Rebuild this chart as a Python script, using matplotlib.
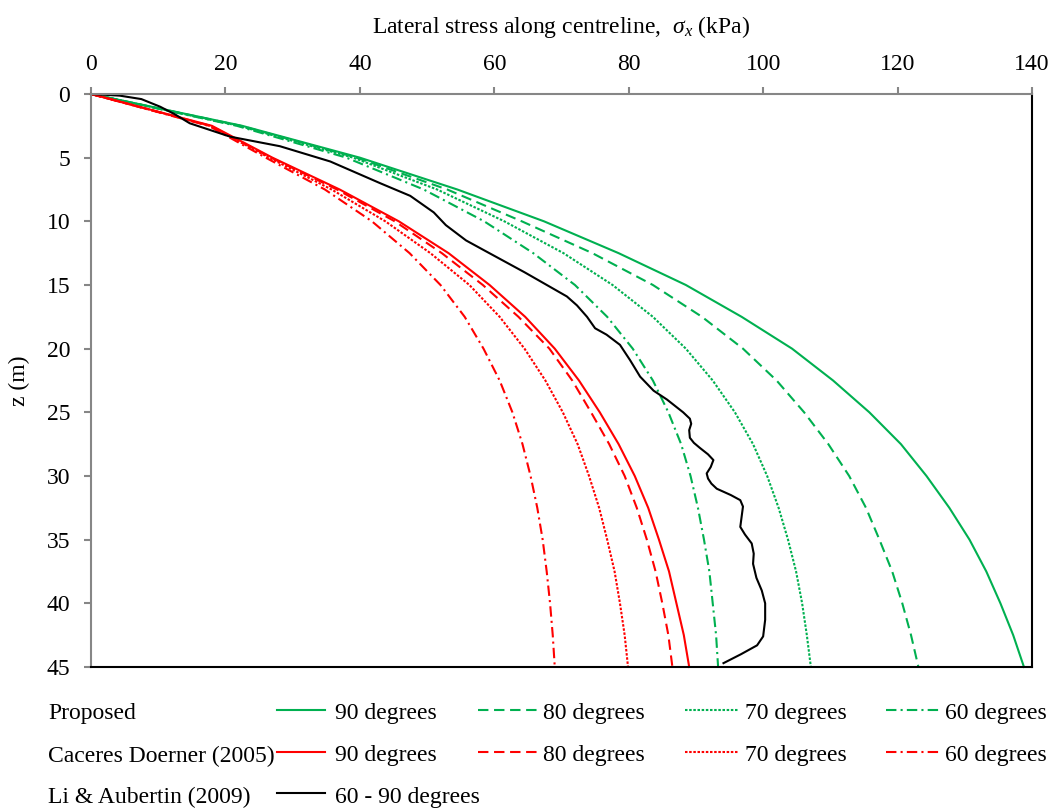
import matplotlib
matplotlib.use("Agg")
import matplotlib.pyplot as plt
from matplotlib.lines import Line2D

plt.rcParams['font.family'] = ['Liberation Serif', 'DejaVu Serif']
plt.rcParams['mathtext.fontset'] = 'custom'
plt.rcParams['mathtext.rm'] = 'Liberation Serif'
plt.rcParams['mathtext.it'] = 'Liberation Serif:italic'

# depth (m) for the analytical curves
z = [0, 2.5, 5, 7.5, 10, 12.5, 15, 17.5, 20, 22.5, 25, 27.5, 30,
     32.5, 35, 37.5, 40, 42.5, 45]

# proposed solution, lateral stress (kPa)
prop_90 = [0, 22.5, 40.0, 54.5, 67.4, 78.5, 88.5, 96.8, 104.3, 110.4, 115.8,
           120.5, 124.3, 127.7, 130.7, 133.2, 135.3, 137.2, 138.8]
prop_80 = [0, 22.3, 39.5, 53.0, 64.1, 74.6, 83.6, 90.9, 97.0, 102.0, 106.1,
           109.7, 112.8, 115.3, 117.3, 119.2, 120.7, 122.0, 123.1]
prop_70 = [0, 22.0, 39.0, 51.5, 61.5, 70.3, 77.6, 83.6, 88.5, 92.5, 95.8,
           98.5, 100.6, 102.3, 103.7, 104.9, 105.8, 106.5, 107.1]
prop_60 = [0, 21.7, 38.0, 49.5, 58.5, 65.8, 72.0, 76.8, 80.6, 83.6, 85.9,
           87.8, 89.2, 90.3, 91.2, 92.0, 92.5, 93.0, 93.3]

# Caceres Doerner (2005)
cd_90 = [0, 18.0, 27.0, 37.0, 45.8, 53.2, 59.3, 64.6, 69.0, 72.6, 75.7,
         78.5, 80.9, 82.9, 84.5, 86.0, 87.1, 88.2, 89.0]
cd_80 = [0, 17.8, 26.8, 36.6, 45.2, 52.2, 58.3, 63.6, 68.2, 71.6, 74.4,
         77.1, 79.4, 81.2, 82.7, 84.0, 85.0, 85.9, 86.5]
cd_70 = [0, 17.7, 26.5, 35.8, 43.8, 50.5, 56.3, 60.8, 64.5, 67.6, 70.2,
         72.4, 74.1, 75.6, 76.8, 77.9, 78.7, 79.4, 79.9]
cd_60 = [0, 17.5, 26.0, 34.8, 41.8, 47.4, 52.0, 55.6, 58.4, 60.8, 62.7,
         64.2, 65.4, 66.4, 67.2, 67.8, 68.3, 68.7, 69.0]

# Li & Aubertin (2009) numerical result
la_z = [0, 0.13, 0.4, 1.0, 1.6, 2.3, 3.35, 4.1, 5.3, 7.0, 8.0, 9.3, 10.3,
        11.5, 12.25, 14.0, 15.9, 16.6, 17.5, 18.4, 18.9, 19.7, 20.9, 22.2,
        23.3, 24.0, 25.0, 25.5, 25.9, 26.4, 27.0, 27.4, 27.8, 28.3, 28.75,
        29.3, 29.8, 30.2, 30.6, 31.0, 31.5, 31.9, 32.4, 33.2, 34.0, 34.6,
        35.3, 36.1, 36.9, 38.0, 39.0, 40.0, 41.3, 42.6, 43.3, 44.0, 44.7]
la_x = [0, 4.3, 7.5, 10.3, 12.5, 14.7, 20.7, 28.1, 35.6, 43.0, 47.5, 51.0,
        52.8, 55.8, 58.4, 64.5, 70.8, 72.3, 73.8, 75.0, 76.7, 78.7, 80.2,
        81.7, 83.7, 85.7, 88.1, 89.1, 89.3, 89.0, 89.1, 89.7, 90.6, 91.8,
        92.6, 92.2, 91.6, 91.8, 92.3, 93.1, 95.2, 96.6, 97.0, 96.8, 96.6,
        97.3, 98.3, 98.6, 98.5, 99.0, 99.8, 100.3, 100.3, 100.0, 99.1,
        96.7, 94.1]

green = '#00B050'
red = '#FF0000'
solid = '-'
dashed = (0, (5, 2.7))
dotted = (0, (1.2, 0.8))
dashdot = (0, (5, 2, 1, 2))
lw = 1.5
fs = 17

fig = plt.figure(figsize=(10.6, 8.11), dpi=100)
ax = fig.add_axes([0.0858, 0.1776, 0.8878, 0.7065])

series = [
    (prop_90, green, solid), (prop_80, green, dashed),
    (prop_70, green, dotted), (prop_60, green, dashdot),
    (cd_90, red, solid), (cd_80, red, dashed),
    (cd_70, red, dotted), (cd_60, red, dashdot),
]
for xs, c, ls in series:
    ax.plot(xs, z, color=c, linestyle=ls, lw=lw, clip_on=False)
ax.plot(la_x, la_z, color='black', lw=lw)

ax.set_xlim(0, 140)
ax.set_ylim(45, 0)
ax.set_xticks(range(0, 141, 20))
ax.set_yticks(range(0, 46, 5))
ax.xaxis.tick_top()
ax.xaxis.set_label_position('top')
ax.tick_params(axis='both', direction='out', length=5, width=1.5,
               color='#868686', labelsize=fs)
ax.tick_params(axis='x', pad=9)
ax.tick_params(axis='y', pad=10)
for s in ['left', 'top']:
    ax.spines[s].set_color('#868686')
    ax.spines[s].set_linewidth(1.5)
for s in ['right', 'bottom']:
    ax.spines[s].set_color('black')
    ax.spines[s].set_linewidth(1.5)

ax.set_xlabel(r'Lateral stress along centreline,  $\sigma_x$ (kPa)',
              fontsize=fs, labelpad=15)
ax.set_ylabel('z (m)', fontsize=fs, labelpad=12)

# legend laid out as rows by method, columns by wall angle
W, H = 1060.0, 811.0
rows = [("Proposed", 714), ("Caceres Doerner (2005)", 756),
        ("Li & Aubertin (2009)", 797)]
for txt, y in rows:
    fig.text(48 / W, 1 - y / H, txt, fontsize=fs, va='center', ha='left')

cols = [(277, 325, 335), (478, 537, 543), (685, 738, 745), (886, 939, 945)]
angles = ["90 degrees", "80 degrees", "70 degrees", "60 degrees"]
styles = [solid, dashed, dotted, dashdot]
for r, c in enumerate([green, red]):
    y = rows[r][1]
    for (x0, x1, xt), lab, ls in zip(cols, angles, styles):
        fig.add_artist(Line2D([x0 / W, x1 / W], [1 - (y - 4) / H] * 2,
                              color=c, linestyle=ls, lw=lw,
                              transform=fig.transFigure))
        fig.text(xt / W, 1 - y / H, lab, fontsize=fs, va='center', ha='left')
x0, x1, xt = cols[0]
y = rows[2][1]
fig.add_artist(Line2D([x0 / W, x1 / W], [1 - (y - 4) / H] * 2,
                      color='black', lw=lw, transform=fig.transFigure))
fig.text(xt / W, 1 - y / H, "60 - 90 degrees", fontsize=fs, va='center',
         ha='left')

fig.savefig('out.png', dpi=100)
